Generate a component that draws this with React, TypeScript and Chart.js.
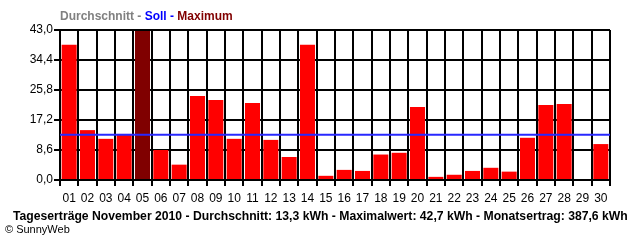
import React, { useEffect, useRef } from "react";
import { Chart, registerables } from "chart.js";

Chart.register(...registerables);

const days = ["01","02","03","04","05","06","07","08","09","10","11","12","13","14","15","16","17","18","19","20","21","22","23","24","25","26","27","28","29","30"];
const dailyYield = [38.8,14.3,11.8,13.2,42.7,8.6,4.4,24.1,22.9,11.8,22.1,11.5,6.6,38.8,1.2,2.9,2.6,7.3,7.8,20.9,0.9,1.5,2.6,3.5,2.4,12.1,21.5,21.8,0,10.3];
const yTicks = [0, 8.6, 17.2, 25.8, 34.4, 43.0];
const sollValue = 13.0;
const headerParts = [
  { text: "Durchschnitt - ", color: "#808080" },
  { text: "Soll - ", color: "#0000ff" },
  { text: "Maximum", color: "#800000" },
];
const footerTitle = "Tageserträge November 2010 - Durchschnitt: 13,3 kWh - Maximalwert: 42,7 kWh - Monatsertrag: 387,6 kWh";
const copyright = "© SunnyWeb";

const maxVal = Math.max(...dailyYield);
const barColors = dailyYield.map((v) => (v === maxVal ? "#800000" : "#ff0000"));

const overlay = {
  id: "overlay",
  afterDatasetsDraw(chart: any) {
    const { ctx, chartArea, scales } = chart;
    const y = scales.y.getPixelForValue(sollValue);
    ctx.save();
    ctx.strokeStyle = "#2828ff";
    ctx.lineWidth = 2;
    ctx.beginPath();
    ctx.moveTo(chartArea.left, y);
    ctx.lineTo(chartArea.right, y);
    ctx.stroke();
    ctx.restore();
  },
  afterDraw(chart: any) {
    const { ctx } = chart;
    ctx.save();
    ctx.textBaseline = "middle";
    ctx.textAlign = "left";
    ctx.font = "bold 12px 'Liberation Sans'";
    let x = 60;
    for (const p of headerParts) {
      ctx.fillStyle = p.color;
      ctx.fillText(p.text, x, 16.5);
      x += ctx.measureText(p.text).width;
    }
    ctx.fillStyle = "#000";
    ctx.font = "bold 12.2px 'Liberation Sans'";
    ctx.fillText(footerTitle, 13, 217);
    ctx.font = "11px 'Liberation Sans'";
    ctx.fillText(copyright, 5, 229.5);
    ctx.restore();
  },
};

export default function App() {
  const ref = useRef<HTMLCanvasElement>(null);
  useEffect(() => {
    document.body.style.margin = "0";
    const chart = new Chart(ref.current!, {
      type: "bar",
      data: {
        labels: days,
        datasets: [
          {
            data: dailyYield,
            backgroundColor: barColors,
            borderWidth: 0,
            categoryPercentage: 1,
            barPercentage: 0.82,
          },
        ],
      },
      options: {
        animation: false,
        responsive: false,
        layout: { padding: { left: 0, right: 30, top: 30, bottom: 0 } },
        plugins: { legend: { display: false }, tooltip: { enabled: false } },
        scales: {
          x: {
            afterFit(s: any) { s.height = 60; },
            grid: { color: "#000", lineWidth: 2, tickLength: 6, offset: true, drawOnChartArea: true },
            border: { color: "#000", width: 2 },
            ticks: { color: "#000", font: { family: "'Liberation Sans'", size: 12 }, padding: 5, maxRotation: 0, autoSkip: false },
          },
          y: {
            min: 0,
            max: 43,
            afterFit(s: any) { s.width = 60; },
            afterBuildTicks(s: any) { s.ticks = yTicks.map((v) => ({ value: v })); },
            grid: { color: "#000", lineWidth: 2, tickLength: 6 },
            border: { color: "#000", width: 2 },
            ticks: {
              color: "#000",
              font: { family: "'Liberation Sans'", size: 12 },
              padding: 1,
              callback: (v: any) => Number(v).toFixed(1).replace(".", ","),
            },
          },
        },
      },
      plugins: [overlay],
    });
    return () => chart.destroy();
  }, []);
  return <canvas ref={ref} width={640} height={240} style={{ display: "block" }} />;
}
